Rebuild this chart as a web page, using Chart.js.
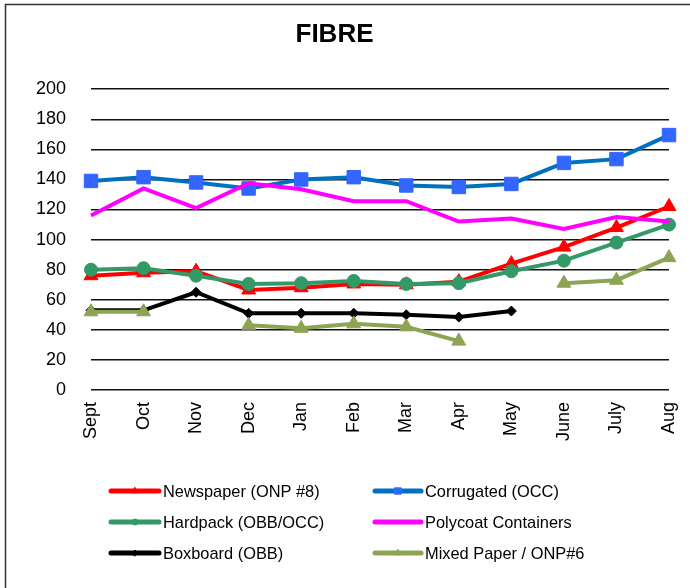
<!DOCTYPE html>
<html>
<head>
<meta charset="utf-8">
<script src="https://cdn.jsdelivr.net/npm/chart.js@4"></script>
<style>
html,body{margin:0;padding:0;background:#fff;}
#wrap{position:relative;width:690px;height:588px;overflow:hidden;}
canvas{position:absolute;left:0;top:0;}
</style>
</head>
<body>
<div id="wrap"><canvas id="c" width="690" height="588"></canvas></div>
<script>
const months = ["Sept","Oct","Nov","Dec","Jan","Feb","Mar","Apr","May","June","July","Aug"];
const yTicks = [0,20,40,60,80,100,120,140,160,180,200];
const newspaper = [76,78,79,66.5,68,70.5,70,72,84,95,108,122];
const corrugated = [139,141.5,138,134,140,141.5,136,135,137,151,153.5,169.5];
const hardpack = [80,81,76,70.5,71,72.5,70.5,71,79,86,98,110];
const polycoat = [116,134,121,137.5,133.5,125.5,125.5,112,114,107,115,112];
const boxboard = [53,53,65,51,51,51,50,48.5,52.5,null,null,null];
const mixedPaper = [52,52,null,43,41,44,42,32.5,null,71,73,88];

const FONT = "'Liberation Sans', Arial, sans-serif";

function ds(label, data, line, fill, style, radius, legendRadius, order){
  return {label, data, borderColor: line, backgroundColor: fill,
    pointBackgroundColor: fill, pointBorderColor: fill, pointBorderWidth: 1,
    pointStyle: style, pointRadius: radius, pointHoverRadius: radius,
    borderWidth: 4, tension: 0, spanGaps: false, order,
    legendRadius};
}

const datasets = [
  ds("Newspaper (ONP #8)", newspaper, "#FF0000", "#FF0000", "triangle", 8, 3.5, 6),
  ds("Corrugated (OCC)", corrugated, "#0070C0", "#3366FF", "rect", 9.5, 4.5, 5),
  ds("Hardpack (OBB/OCC)", hardpack, "#339966", "#339966", "circle", 6.5, 3, 4),
  ds("Polycoat Containers", polycoat, "#FF00FF", "#FF00FF", false, 0, 0, 3),
  ds("Boxboard (OBB)", boxboard, "#000000", "#000000", "rectRot", 5, 3, 2),
  ds("Mixed Paper / ONP#6", mixedPaper, "#8DA455", "#8DA455", "triangle", 8, 3.5, 1)
];

const legendPlugin = {
  id: 'customLegend',
  afterDraw(chart){
    const ctx = chart.ctx;
    ctx.save();
    ctx.strokeStyle = '#333';
    ctx.lineWidth = 1.5;
    ctx.strokeRect(5.5, 4.5, 900, 900);
    const cols = [{x0:111,x1:159,tx:163},{x0:375,x1:421,tx:425}];
    const rows = [491,522,553];
    chart.data.datasets.forEach((d,i)=>{
      const c = cols[i%2], y = rows[Math.floor(i/2)];
      ctx.strokeStyle = d.borderColor;
      ctx.lineWidth = 5;
      ctx.lineCap = 'round';
      ctx.beginPath(); ctx.moveTo(c.x0,y); ctx.lineTo(c.x1,y); ctx.stroke();
      if (d.pointStyle && d.legendRadius){
        ctx.fillStyle = d.pointBackgroundColor;
        ctx.strokeStyle = d.pointBorderColor;
        ctx.lineWidth = 1;
        Chart.helpers.drawPoint(ctx, {pointStyle:d.pointStyle, radius:d.legendRadius, borderWidth:1, rotation:0}, (c.x0+c.x1)/2, y);
      }
      ctx.fillStyle = '#000';
      ctx.font = "16.4px " + FONT;
      ctx.textBaseline = 'middle';
      ctx.textAlign = 'left';
      ctx.fillText(d.label, c.tx, y+1);
    });
    ctx.restore();
  }
};

new Chart(document.getElementById('c'), {
  type: 'line',
  data: { labels: months, datasets },
  plugins: [legendPlugin],
  options: {
    responsive: false,
    animation: false,
    layout: { padding: { left: 0, right: 21, top: 0, bottom: 0 } },
    plugins: {
      legend: { display: false },
      tooltip: { enabled: false },
      title: { display: true, text: "FIBRE", color: '#000',
        font: { family: FONT, size: 26, weight: 'bold', lineHeight: 1.2 },
        padding: { top: 19, bottom: 39 } }
    },
    scales: {
      x: {
        offset: false,
        grid: { display: false, drawTicks: false },
        border: { display: false },
        ticks: { color: '#000', font: { family: FONT, size: 18 }, maxRotation: 90, minRotation: 90, padding: 12, autoSkip: false },
        afterFit(s){ s.height = 198; s.paddingRight = 0; s.paddingLeft = 0; }
      },
      y: {
        min: 0, max: 200,
        afterBuildTicks(s){ s.ticks = yTicks.map(v=>({value:v})); },
        grid: { color: '#111', lineWidth: 1.5, drawTicks: false },
        border: { display: false },
        ticks: { color: '#000', font: { family: FONT, size: 18 }, padding: 25 },
        afterFit(s){ s.width = 91; s.paddingTop = 0; s.paddingBottom = 0; }
      }
    }
  }
});
</script>
</body>
</html>
